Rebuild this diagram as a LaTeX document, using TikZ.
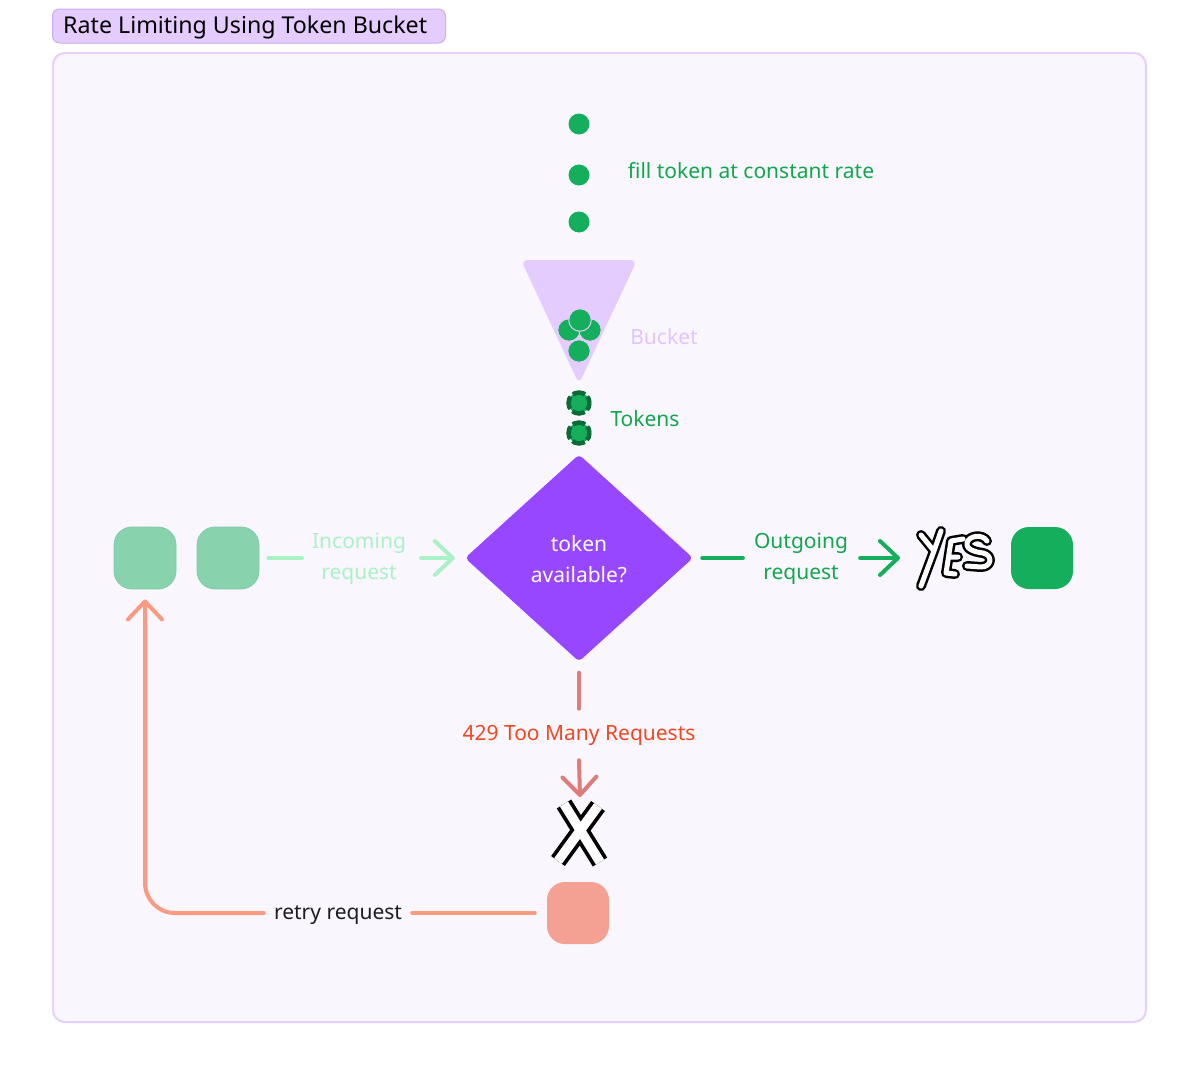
\documentclass[tikz,border=0pt]{standalone}
\usepackage{fontspec}
\setmainfont{Noto Sans}
\usetikzlibrary{shapes.geometric,arrows.meta}
\definecolor{panelfill}{HTML}{F9F6FE}
\definecolor{panelborder}{HTML}{E6CFFB}
\definecolor{titlefill}{HTML}{E4CCFF}
\definecolor{titleborder}{HTML}{CDACF4}
\definecolor{tgreen}{HTML}{14AE5C}
\definecolor{greentext}{HTML}{12A64E}
\definecolor{darkgreen}{HTML}{0A6B35}
\definecolor{bucketfill}{HTML}{E4CCFF}
\definecolor{buckettext}{HTML}{E0C6FC}
\definecolor{tpurple}{HTML}{9747FF}
\definecolor{boxgreen}{HTML}{88D3AE}
\definecolor{boxgreenb}{HTML}{7FCCA6}
\definecolor{lightgreen}{HTML}{AAF2C6}
\definecolor{redline}{HTML}{DE7B7B}
\definecolor{redtext}{HTML}{F24822}
\definecolor{retry}{HTML}{FB9A82}
\definecolor{salmon}{HTML}{F4A092}
\definecolor{ink}{HTML}{1E1E1E}
\newcommand{\yespath}{(921,535) -- (934,551) (941,531) -- (934,551) -- (921,586)
  (963,539) -- (951,541) -- (946,573) -- (955,574)
  (949,557) -- (958,557)
  (987,541) .. controls (983,534) and (969,535) .. (967,543) .. controls (966,550) and (976,552) .. (983,553) .. controls (993,555) and (992,567) .. (981,567) -- (967,566)}
\newcommand{\xpath}{(564,804) -- (600,862) (598,806) -- (558,861)}
\tikzset{
  txt/.style={font=\fontsize{21}{31}\selectfont, align=center, inner sep=0pt},
  dot/.style={circle, fill=tgreen, minimum size=21pt, inner sep=0pt},
  bdot/.style={circle, fill=tgreen, draw=bucketfill, line width=1pt, minimum size=22.5pt, inner sep=0pt},
  tok/.style={circle, fill=tgreen, draw=darkgreen, line width=4.5pt, minimum size=21pt, inner sep=0pt,
     dash pattern=on 13pt off 3pt, dash phase=6pt},
  rbox/.style={rounded corners=18pt, minimum size=62pt, inner sep=0pt},
  conn/.style={line width=4pt, line cap=round, line join=round},
  barb/.style={-{Straight Barb[length=18pt,width=34pt,round]}},
  yesblack/.style={draw=black, line width=10pt, line cap=round, line join=round},
  yeswhite/.style={draw=white, line width=5pt, line cap=round, line join=round},
  xblack/.style={draw=black, line width=17pt, line cap=butt, line join=round},
  xwhite/.style={draw=white, line width=9.5pt, line cap=butt, line join=round},
}
\begin{document}
\begin{tikzpicture}[x=1pt,y=-1pt]
\useasboundingbox[fill=white] (0,0) rectangle (1200,1076);
% panel
\draw[fill=panelfill, draw=panelborder, line width=2pt, rounded corners=12pt] (53,53) rectangle (1146,1022);
% title
\node[draw=titleborder, fill=titlefill, line width=1pt, rounded corners=7pt, minimum width=393pt, minimum height=34pt, inner sep=0pt, anchor=west] (title) at (52,26) {};
\node[txt, font=\fontsize{23.2}{28}\selectfont, text=black, anchor=west] (titletext) at (63,27.5) {Rate Limiting Using Token Bucket};
% fill dots
\node[dot] (d1) at (579,124) {};
\node[dot] (d2) at (579,175) {};
\node[dot] (d3) at (579,222) {};
\node[txt, text=greentext] (filltext) at (751,171) {fill token at constant rate};
% bucket
\fill[bucketfill, rounded corners=7pt] (521,260) -- (637,260) -- (579,384) -- cycle;
\coordinate (bucket) at (579,300);
\node[bdot] (b2) at (569,330) {};
\node[bdot] (b3) at (590,330) {};
\node[bdot] (b1) at (580,320) {};
\node[bdot] (b4) at (579,351) {};
\node[txt, text=buckettext] (buckettxt) at (664,337) {Bucket};
% tokens
\node[tok] (t1) at (579,403) {};
\node[tok] (t2) at (579,433) {};
\node[txt, text=greentext] (tokentxt) at (645,419) {Tokens};
% diamond
\node[diamond, fill=tpurple, minimum width=228pt, minimum height=207pt, inner sep=0pt, rounded corners=4pt] (dec) at (579,558) {};
\node[txt, text=white] (dectext) at (579,559) {token\\available?};
% left boxes
\node[rbox, fill=boxgreen, draw=boxgreenb, line width=0.8pt] (lb1) at (145,558) {};
\node[rbox, fill=boxgreen, draw=boxgreenb, line width=0.8pt] (lb2) at (228,558) {};
\node[txt, text=lightgreen] (inlab) at (359,559) {Incoming\\request};
\draw[conn, draw=lightgreen] ([xshift=9pt]lb2.east) -- ([xshift=-10pt]inlab.west |- lb2.east);
\draw[conn, draw=lightgreen, barb] ([xshift=15pt]inlab.east |- lb2.east) -- ([xshift=-10pt]dec.west);
% outgoing
\node[txt, text=greentext] (outlab) at (801,559) {Outgoing\\request};
\draw[conn, draw=tgreen] ([xshift=9pt]dec.east) -- ([xshift=-11pt]outlab.west |- dec.east);
\node[rbox, fill=tgreen] (gbox) at (1042,558) {};
\coordinate (yes) at (955,558);
\draw[conn, draw=tgreen, barb] ([xshift=12pt]outlab.east |- dec.east) -- ([xshift=-55pt]yes);
% YES
\path[yesblack] \yespath;
\path[yeswhite] \yespath;
% 429 branch
\node[txt, text=redtext] (r429) at (579,735) {429 Too Many Requests};
\draw[conn, draw=redline] ([yshift=-11pt]dec.south) -- ([yshift=16pt]r429.north);
\coordinate (xmark) at (580,834);
\draw[conn, draw=redline, barb] ([yshift=-15pt]r429.south) -- ([yshift=37pt]xmark);
\path[xblack] \xpath;
\path[xwhite] \xpath;
% salmon box and retry
\node[rbox, fill=salmon] (sbox) at (578,913) {};
\node[txt, text=ink] (retrylab) at (338,915) {retry request};
\draw[conn, draw=retry] ([xshift=-12pt]sbox.west) -- ([xshift=10pt]retrylab.east |- sbox.west);
\draw[conn, draw=retry, rounded corners=30pt, barb] ([xshift=-10pt]retrylab.west |- sbox.west) -| ([yshift=-10pt]lb1.south);
\end{tikzpicture}
\end{document}
